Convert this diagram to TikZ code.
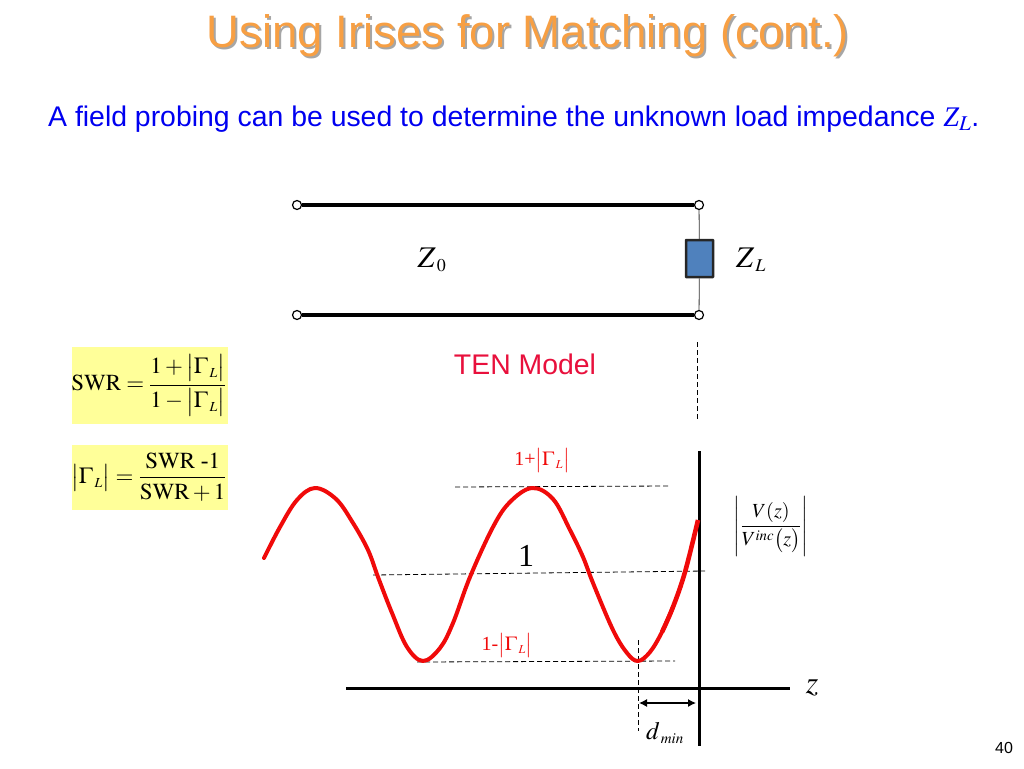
\documentclass[tikz,border=0pt]{standalone}
\usepackage{amsmath}
\usepackage{mathptmx}
\usepackage[no-math]{fontspec}
\usetikzlibrary{arrows.meta}
\setmainfont{Liberation Serif}
\newfontfamily\arialfont{Liberation Sans}
\definecolor{titleorange}{HTML}{F79F43}
\definecolor{titleshadow}{HTML}{A6A6A6}
\definecolor{leadblue}{HTML}{0000F0}
\definecolor{tenred}{HTML}{E8103C}
\definecolor{wavered}{HTML}{F00A0A}
\definecolor{noteyellow}{HTML}{FFFF99}
\definecolor{loadblue}{HTML}{4F81BD}
\newcommand{\sz}[1]{\fontsize{#1}{#1}\selectfont}
\newcommand{\absg}{\bigl|\Gamma_{\,\scriptscriptstyle L}\bigr|}
\tikzset{
  term node/.style={circle,draw,line width=1.2pt,fill=white,minimum size=9pt,inner sep=0pt},
  note box/.style={fill=noteyellow,inner sep=0pt,anchor=north west},
  guide/.style={dashed,line width=.8pt,dash pattern=on 5pt off 3pt},
  wave/.style={wavered,line join=round},
}
\begin{document}
\begin{tikzpicture}[x=1pt,y=-1pt]
\useasboundingbox (0,0) rectangle (1024,768);
\begin{scope}[every node/.style={inner sep=0pt}]
\node[text=titleshadow] (titleback) at (530,37.5) {\arialfont\sz{45.5}Using Irises for Matching (cont.)};
\node[text=titleorange] (title) at (528,35.5) {\arialfont\sz{45.5}Using Irises for Matching (cont.)};
\node[text=leadblue,anchor=base west] (lead) at (48,126) {\arialfont\sz{28.4}A field probing can be used to determine the unknown load impedance {\rmfamily\itshape Z$_{\mathit{L}}$}.};
\node[text=tenred] (ten) at (525,364) {\arialfont\sz{28.4}TEN Model};
\node[text=black] (page) at (1004,748) {\arialfont\sz{16}40};
\end{scope}
\node[note box,minimum width=156pt,minimum height=77pt] (swrbox) at (72,347) {};
\node[note box,minimum width=156pt,minimum height=65pt] (gammabox) at (72,445) {};
\begin{scope}[every node/.style={inner sep=0pt,text=black}]
\node (swr) at (149,385) {\sz{23}$\mathrm{SWR}=\dfrac{1+\absg}{1-\absg}$};
\node (gamma) at (149,477) {\sz{23}$\absg=\dfrac{\mathrm{SWR\ \text{-}1}}{\mathrm{SWR}+1}$};
\node (zzero) at (432,260) {\sz{30}$Z_{\,\scriptscriptstyle 0}$};
\node (zload) at (751,260) {\sz{30}$Z_{\,\scriptscriptstyle L}$};
\node (one) at (526,556) {\sz{32}1};
\node (ratio) at (771,526) {\sz{20}$\left|\dfrac{V(z)}{V^{\mathit{inc}}\bigl(z\bigr)}\right|$};
\node (zaxis) at (812,688) {\sz{32}$z$};
\node (dmin) at (665,733) {\sz{25}$d_{\,\scriptscriptstyle\mathit{min}}$};
\node[text=wavered] (gmax) at (542,460) {\sz{20}1+$\absg$};
\node[text=wavered] (gmin) at (507,645) {\sz{20}1-$\absg$};
\end{scope}
\node[term node] (t1) at (297,205) {};
\node[term node] (t2) at (699,205) {};
\node[term node] (t3) at (297,315) {};
\node[term node] (t4) at (699,315) {};
\node[draw=black!85,line width=2.5pt,rounded corners=.5pt,fill=loadblue,minimum width=27pt,minimum height=37pt,inner sep=0pt] (load) at (699.5,258.5) {};
\begin{scope}
\draw[line width=4.5pt] (t1) edge (t2);
\draw[line width=4.5pt] (t3) edge (t4);
\draw[line width=.8pt,black!80] (t2) edge (load);
\draw[line width=.8pt,black!80] (t4) edge (load);
\end{scope}
% axes
\coordinate (ytop) at (699,451);
\coordinate (ybot) at (699,746);
\coordinate (xleft) at (346,688);
\coordinate (xright) at (790,688);
\draw[line width=3pt] (ytop) -- (ybot);
\draw[line width=3pt] (xleft) -- (xright);
% guides
\coordinate (g1) at (697,342);
\coordinate (g2) at (697,421);
\coordinate (g3) at (455,487);
\coordinate (g4) at (669,486);
\coordinate (g5) at (373,575);
\coordinate (g6) at (705,571);
\coordinate (g7) at (417,662);
\coordinate (g8) at (675,661);
\coordinate (g9) at (638,640);
\coordinate (g10) at (638,731);
\draw[guide] (g1) -- (g2);
\draw[guide] (g3) -- (g4);
\draw[guide] (g5) -- (g6);
\draw[guide] (g7) -- (g8);
\draw[guide] (g9) -- (g10);
% wave
\draw[wave,line width=4pt,line cap=round] plot[smooth,tension=.6] coordinates {(264,558) (280,527) (297,500) (315,488) (336,499) (353,523) (368,550) (378,577) (392,613) (407,647) (423,661) (440,648) (453,623) (470,577) (493,527) (510,502) (532,488) (553,499) (570,530) (583,557) (593,583) (613,630) (627,653) (638,661) (650,652) (662,632) (673,607)};
\draw[wave,line width=4.6pt] plot[smooth,tension=.6] coordinates {(662,632) (673,607) (685,572) (698,520)};
% dmin arrow
\coordinate (a1) at (639,703);
\coordinate (a2) at (696,703);
\draw[line width=1.2pt,{Latex[length=8pt,width=8pt]}-{Latex[length=8pt,width=8pt]}] (a1) -- (a2);
\end{tikzpicture}
\end{document}
